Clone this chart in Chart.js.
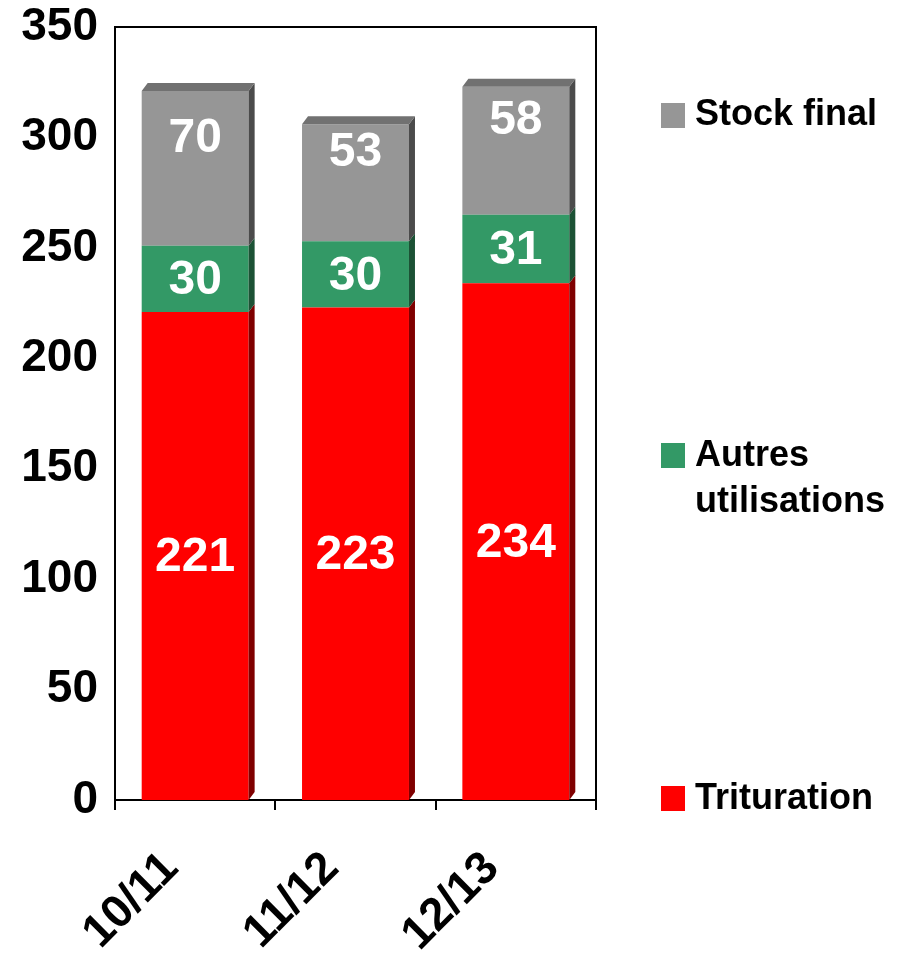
<!DOCTYPE html>
<html><head><meta charset="utf-8">
<script src="https://cdn.jsdelivr.net/npm/chart.js@4/dist/chart.umd.min.js"></script>
<style>
html,body{margin:0;padding:0;background:#fff;}
#wrap{position:relative;width:900px;height:955px;}
canvas{position:absolute;left:0;top:0;}
.leg{position:absolute;left:661px;font:bold 36px "Liberation Sans",Arial,sans-serif;color:#000;line-height:46px;}
.leg .sw{position:absolute;left:0;width:24px;height:25px;}
.leg .tx{position:absolute;left:34px;white-space:nowrap;}
</style></head>
<body><div id="wrap"><canvas id="c" width="900" height="955"></canvas>
<div class="leg" style="top:90px"><div class="sw" style="top:13px;background:#969696"></div><div class="tx" style="top:0">Stock final</div></div>
<div class="leg" style="top:431px"><div class="sw" style="top:12px;background:#339966"></div><div class="tx" style="top:0">Autres<br>utilisations</div></div>
<div class="leg" style="top:774px"><div class="sw" style="top:12px;background:#ff0000"></div><div class="tx" style="top:0">Trituration</div></div>
</div>
<script>
const categories = ["10/11","11/12","12/13"];
const trituration = [221,223,234];
const autres = [30,30,31];
const stockFinal = [70,53,58];
const seriesNames = ["Trituration","Autres utilisations","Stock final"];
const yTicks = [0,50,100,150,200,250,300,350];

const FONT = '"Liberation Sans", Arial, sans-serif';
const frontColors = ["#ff0000","#339966","#969696"];
const sideColors = ["#7f0000","#1c5235","#4b4b4b"];
const topColor = "#717171";
const labelOffsets = [0,0,-32];
const DX = 6, DY = 8;
const XLABEL_DX = -15, XLABEL_Y = 870;

const bar3d = {
  id:'bar3d',
  afterDatasetsDraw(chart){
    const ctx = chart.ctx;
    const n = chart.data.datasets.length;
    ctx.save();
    for(let d=0; d<n; d++){
      const meta = chart.getDatasetMeta(d);
      meta.data.forEach((el)=>{
        const p = el.getProps(['x','y','base','width'], true);
        const right = p.x + p.width/2, left = p.x - p.width/2;
        ctx.fillStyle = sideColors[d];
        ctx.beginPath();
        ctx.moveTo(right, p.y);
        ctx.lineTo(right+DX, p.y-DY);
        ctx.lineTo(right+DX, p.base-DY);
        ctx.lineTo(right, p.base);
        ctx.closePath(); ctx.fill();
        if(d===n-1){
          ctx.fillStyle = topColor;
          ctx.beginPath();
          ctx.moveTo(left, p.y);
          ctx.lineTo(left+DX, p.y-DY);
          ctx.lineTo(right+DX, p.y-DY);
          ctx.lineTo(right, p.y);
          ctx.closePath(); ctx.fill();
        }
      });
    }
    ctx.fillStyle = '#fff';
    ctx.font = 'bold 48px ' + FONT;
    ctx.textAlign = 'center';
    ctx.textBaseline = 'middle';
    for(let d=0; d<n; d++){
      const meta = chart.getDatasetMeta(d);
      const vals = chart.data.datasets[d].data;
      meta.data.forEach((el,i)=>{
        const p = el.getProps(['x','y','base'], true);
        ctx.fillText(String(vals[i]), p.x, (p.y+p.base)/2 + labelOffsets[d] + 2);
      });
    }
    const a = chart.chartArea;
    ctx.strokeStyle = '#000'; ctx.lineWidth = 2;
    ctx.beginPath();
    ctx.moveTo(a.left, a.bottom); ctx.lineTo(a.left, a.top); ctx.lineTo(a.right, a.top); ctx.lineTo(a.right, a.bottom);
    ctx.stroke();
    const xs = chart.scales.x;
    ctx.fillStyle = '#000';
    ctx.font = 'bold 46px ' + FONT;
    ctx.textAlign = 'right';
    ctx.textBaseline = 'alphabetic';
    categories.forEach((c,i)=>{
      const x = xs.getPixelForValue(i) + XLABEL_DX;
      ctx.save();
      ctx.translate(x, XLABEL_Y);
      ctx.rotate(-Math.PI/4);
      ctx.fillText(c, 0, 0);
      ctx.restore();
    });
    ctx.restore();
  }
};

new Chart(document.getElementById('c'), {
  type:'bar',
  data:{
    labels: categories,
    datasets:[
      {label:seriesNames[0], data:trituration, backgroundColor:frontColors[0]},
      {label:seriesNames[1], data:autres, backgroundColor:frontColors[1]},
      {label:seriesNames[2], data:stockFinal, backgroundColor:frontColors[2]}
    ]
  },
  options:{
    responsive:false, animation:false,
    layout:{padding:{top:27,right:304,left:0,bottom:0}},
    plugins:{legend:{display:false}, tooltip:{enabled:false}},
    datasets:{bar:{categoryPercentage:1, barPercentage:0.667}},
    scales:{
      x:{
        stacked:true,
        afterFit(s){ s.height = 155; s.paddingLeft = 0; s.paddingRight = 0; },
        grid:{offset:true, drawOnChartArea:false, drawTicks:true, tickLength:10, color:'#000', lineWidth:2},
        border:{color:'#000', width:2},
        ticks:{display:false}
      },
      y:{
        stacked:true, min:0, max:350,
        afterFit(s){ s.width = 115; s.paddingTop = 0; s.paddingBottom = 0; },
        afterBuildTicks(s){ s.ticks = yTicks.map(v=>({value:v})); },
        grid:{display:false, drawTicks:false},
        border:{color:'#000', width:2},
        ticks:{color:'#000', font:{family:FONT, size:46, weight:'bold'}, padding:17}
      }
    }
  },
  plugins:[bar3d]
});
</script></body></html>
